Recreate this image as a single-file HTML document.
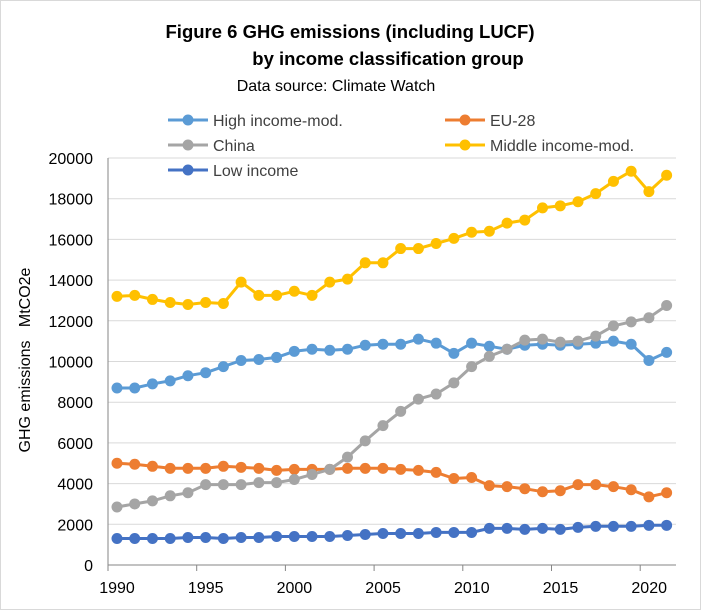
<!DOCTYPE html>
<html><head><meta charset="utf-8"><style>
html,body{margin:0;padding:0;background:#fff}
svg{display:block;font-family:"Liberation Sans",Calibri,sans-serif}
</style></head><body>
<svg id="c" width="701" height="610" viewBox="0 0 701 610" xmlns="http://www.w3.org/2000/svg">
<rect x="0.5" y="0.5" width="700" height="609" fill="#fff" stroke="#d9d9d9"/>
<text x="350" y="38" font-size="18.5" font-weight="bold" text-anchor="middle" fill="#000">Figure 6 GHG emissions (including LUCF)</text>
<text x="388" y="65" font-size="18.5" font-weight="bold" text-anchor="middle" fill="#000">by income classification group</text>
<text x="336" y="91" font-size="16" text-anchor="middle" fill="#000">Data source: Climate Watch</text>
<g font-size="16" fill="#404040">
<line x1="168" y1="120" x2="208" y2="120" stroke="#5b9bd5" stroke-width="3"/><circle cx="188" cy="120" r="5.5" fill="#5b9bd5"/><text x="213" y="126">High income-mod.</text>
<line x1="168" y1="145" x2="208" y2="145" stroke="#a5a5a5" stroke-width="3"/><circle cx="188" cy="145" r="5.5" fill="#a5a5a5"/><text x="213" y="151">China</text>
<line x1="168" y1="170" x2="208" y2="170" stroke="#4472c4" stroke-width="3"/><circle cx="188" cy="170" r="5.5" fill="#4472c4"/><text x="213" y="176">Low income</text>
<line x1="445" y1="120" x2="485" y2="120" stroke="#ed7d31" stroke-width="3"/><circle cx="465" cy="120" r="5.5" fill="#ed7d31"/><text x="490" y="126">EU-28</text>
<line x1="445" y1="145" x2="485" y2="145" stroke="#ffc000" stroke-width="3"/><circle cx="465" cy="145" r="5.5" fill="#ffc000"/><text x="490" y="151">Middle income-mod.</text>
</g>
<text transform="translate(30,360) rotate(-90)" font-size="16" text-anchor="middle" fill="#000">GHG emissions&#160;&#160;&#160;MtCO2e</text>
<g id="grid"></g><g id="series"></g>
</svg>
<script>
var s=document.getElementById('c'),NS="http://www.w3.org/2000/svg";
function el(t,a,p,txt){var e=document.createElementNS(NS,t);for(var k in a)e.setAttribute(k,a[k]);if(txt!=null)e.textContent=txt;(p||s).appendChild(e);return e;}
var g=document.getElementById('grid'),sr=document.getElementById('series');
var y0=565,k=407/20000,x0=117,dx=17.73;
function Y(v){return y0-v*k}
for(var v=0;v<=20000;v+=2000){var y=Y(v);if(v>0)el('line',{x1:108,y1:y,x2:676,y2:y,stroke:'#d9d9d9','stroke-width':1},g);
el('text',{x:93,y:y+6,'font-size':16,'text-anchor':'end',fill:'#000'},g,v);}
el('line',{x1:108,y1:158,x2:108,y2:565,stroke:'#868686'},g);
el('line',{x1:108,y1:565,x2:676,y2:565,stroke:'#868686'},g);
for(var i=0;i<=6;i++){var x=108+i*88.7;el('line',{x1:x,y1:565,x2:x,y2:571,stroke:'#868686'},g);
el('text',{x:x+9,y:593,'font-size':16,'text-anchor':'middle',fill:'#000'},g,1990+5*i);}
var D=[
['#ffc000',[13200,13250,13050,12900,12800,12900,12850,13900,13250,13250,13450,13250,13900,14050,14850,14850,15550,15550,15800,16050,16350,16400,16800,16950,17550,17650,17850,18250,18850,19350,18350,19150]],
['#5b9bd5',[8700,8700,8900,9050,9300,9450,9750,10050,10100,10200,10500,10600,10550,10600,10800,10850,10850,11100,10900,10400,10900,10750,10600,10800,10850,10800,10850,10900,11000,10850,10050,10450]],
['#ed7d31',[5000,4950,4850,4750,4750,4750,4850,4800,4750,4650,4700,4700,4700,4750,4750,4750,4700,4650,4550,4250,4300,3900,3850,3750,3600,3650,3950,3950,3850,3700,3350,3550]],
['#a5a5a5',[2850,3000,3150,3400,3550,3950,3950,3950,4050,4050,4200,4450,4700,5300,6100,6850,7550,8150,8400,8950,9750,10250,10600,11050,11100,10950,11000,11250,11750,11950,12150,12750]],
['#4472c4',[1300,1300,1300,1300,1350,1350,1300,1350,1350,1400,1400,1400,1400,1450,1500,1550,1550,1550,1600,1600,1600,1800,1800,1750,1800,1750,1850,1900,1900,1900,1950,1950]]];
D.forEach(function(d){var pts=d[1].map(function(v,i){return (x0+i*dx).toFixed(1)+','+Y(v).toFixed(1)});
el('polyline',{points:pts.join(' '),fill:'none',stroke:d[0],'stroke-width':3,'stroke-linejoin':'round'},sr);
d[1].forEach(function(v,i){el('circle',{cx:x0+i*dx,cy:Y(v),r:5.5,fill:d[0]},sr);});});
</script>
</body></html>
